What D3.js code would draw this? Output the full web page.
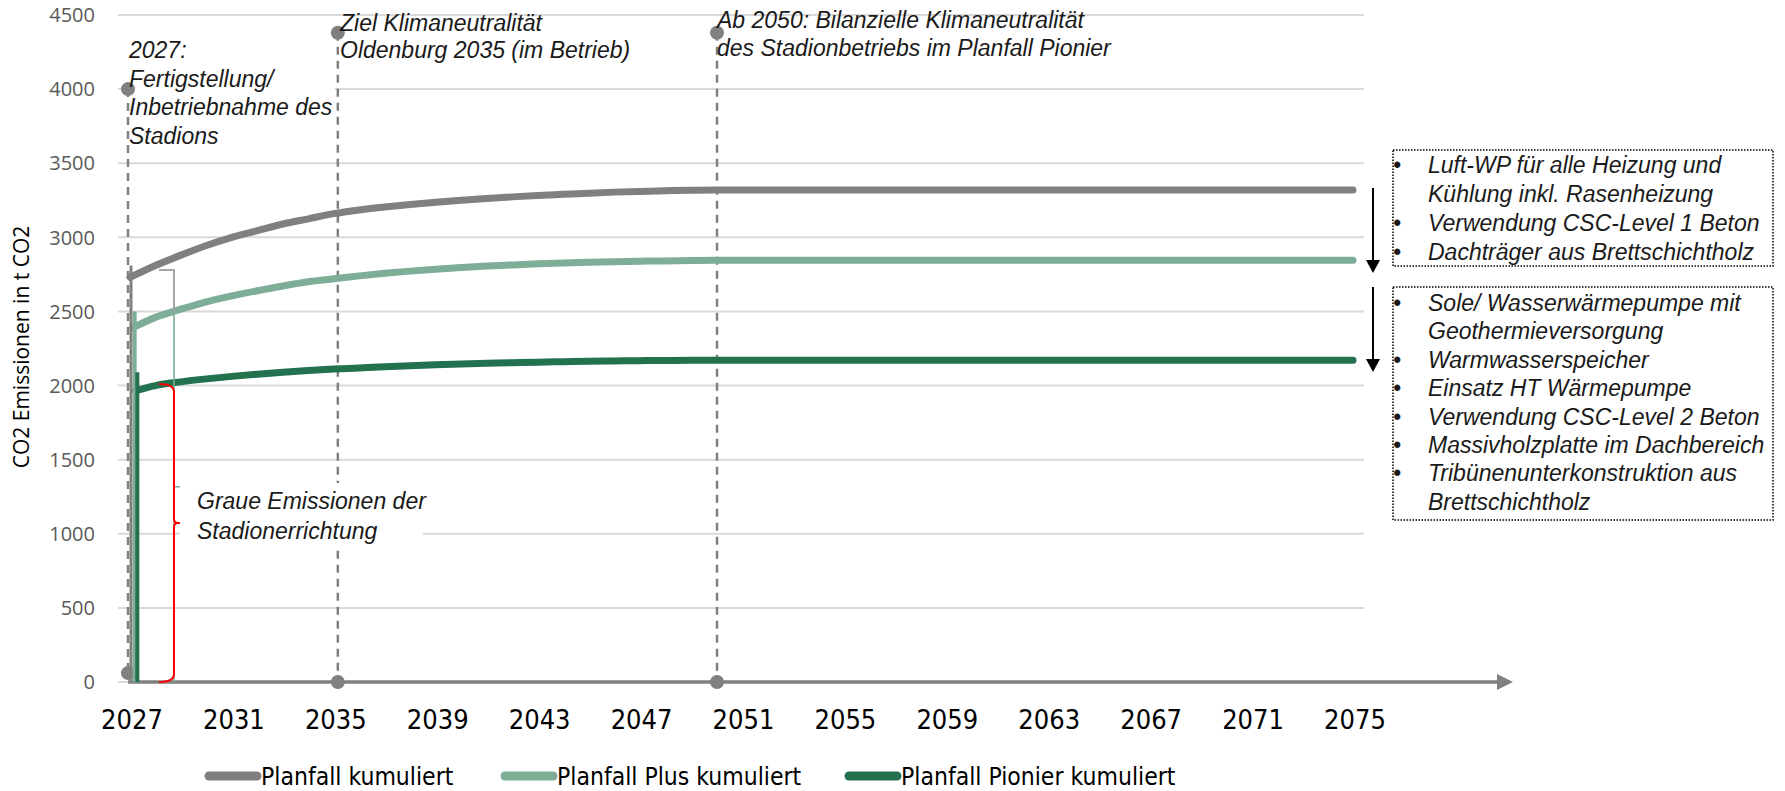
<!DOCTYPE html>
<html lang="de">
<head>
<meta charset="utf-8">
<title>CO2 Emissionen kumuliert</title>
<script src="https://cdn.jsdelivr.net/npm/d3@7/dist/d3.min.js"></script>
<style>
  html, body { margin: 0; padding: 0; background: #ffffff; }
  svg { display: block; }
  .ann { font-family: "Liberation Sans", Arial, sans-serif; font-style: italic; font-size: 23px; fill: #1a1a1a; }
  .ytick { font-family: "Open Sans", "Noto Sans", sans-serif; font-size: 20px; fill: #595959; }
  .xtick { font-family: "Liberation Sans Narrow", "DejaVu Sans Condensed", sans-serif; font-size: 27px; fill: #000; }
  .legend { font-family: "Liberation Sans Narrow", "DejaVu Sans Condensed", sans-serif; font-size: 24.5px; fill: #000; }
  .ytitle { font-family: "Open Sans", "Noto Sans", sans-serif; font-size: 21px; fill: #000; }
</style>
</head>
<body>
<svg id="chart" width="1785" height="791"></svg>
<script>
// ---- data -------------------------------------------------------------
const years = d3.range(2027, 2076);

// cumulative CO2 emissions (t CO2) per scenario, 2027 .. 2075
const planfall = [
  2730, 2810, 2880, 2945, 3000, 3045, 3090, 3125, 3160, 3185,
  3205, 3222, 3237, 3250, 3262, 3273, 3282, 3290, 3298, 3305,
  3310, 3314, 3318, 3320, 3320, 3320, 3320, 3320, 3320, 3320,
  3320, 3320, 3320, 3320, 3320, 3320, 3320, 3320, 3320, 3320,
  3320, 3320, 3320, 3320, 3320, 3320, 3320, 3320, 3320
];
const planfallPlus = [
  2390, 2460, 2515, 2565, 2605, 2640, 2672, 2700, 2720, 2740,
  2757, 2772, 2785, 2796, 2806, 2814, 2821, 2827, 2832, 2836,
  2839, 2841, 2843, 2845, 2845, 2845, 2845, 2845, 2845, 2845,
  2845, 2845, 2845, 2845, 2845, 2845, 2845, 2845, 2845, 2845,
  2845, 2845, 2845, 2845, 2845, 2845, 2845, 2845, 2845
];
const planfallPionier = [
  1965, 2000, 2025, 2045, 2062, 2077, 2090, 2101, 2111, 2119,
  2127, 2134, 2140, 2145, 2150, 2154, 2158, 2161, 2164, 2166,
  2168, 2169, 2170, 2170, 2170, 2170, 2170, 2170, 2170, 2170,
  2170, 2170, 2170, 2170, 2170, 2170, 2170, 2170, 2170, 2170,
  2170, 2170, 2170, 2170, 2170, 2170, 2170, 2170, 2170
];

const seriesNames = ["Planfall kumuliert", "Planfall Plus kumuliert", "Planfall Pionier kumuliert"];
const seriesColors = ["#808080", "#7eae98", "#22714f"];
// construction emissions at commissioning (vertical spike per scenario)
const baustartSpike = [2810, 2500, 2090];
// extents of the braces marking the grey (embodied) emissions
const graueEmissionen = [2780, 2500, 2010];
const braceColors = ["#a6a6a6", "#7eae98", "#ff0000"];

const yTicks = [0, 500, 1000, 1500, 2000, 2500, 3000, 3500, 4000, 4500];
const xTickYears = [2027, 2031, 2035, 2039, 2043, 2047, 2051, 2055, 2059, 2063, 2067, 2071, 2075];

// milestone markers: year, top value, bottom value, caption lines
const milestoneYears = [2027, 2035, 2050];
const milestoneTop = [4000, 4380, 4380];
const milestoneBottom = [60, 0, 0];
const milestoneText = [
  ["2027:", "Fertigstellung/", "Inbetriebnahme des", "Stadions"],
  ["Ziel Klimaneutralität", "Oldenburg 2035 (im Betrieb)"],
  ["Ab 2050: Bilanzielle Klimaneutralität", "des Stadionbetriebs im Planfall Pionier"]
];

const braceText = ["Graue Emissionen der", "Stadionerrichtung"];

const massnahmenPlus = [
  ["Luft-WP für alle Heizung und", "Kühlung inkl. Rasenheizung"],
  ["Verwendung CSC-Level 1 Beton"],
  ["Dachträger aus Brettschichtholz"]
];
const massnahmenPionier = [
  ["Sole/ Wasserwärmepumpe mit", "Geothermieversorgung"],
  ["Warmwasserspeicher"],
  ["Einsatz HT Wärmepumpe"],
  ["Verwendung CSC-Level 2 Beton"],
  ["Massivholzplatte im Dachbereich"],
  ["Tribünenunterkonstruktion aus", "Brettschichtholz"]
];

// ---- layout -------------------------------------------------------------
const svg = d3.select("#chart");
const plotLeft = 118, plotRight = 1364;
const x = d3.scaleLinear().domain([2027, 2075]).range([130, 1353]);
const y = d3.scaleLinear().domain([0, 4500]).range([682, 15]);
const spikeBand = d3.scaleBand().domain(seriesNames).range([x(2027), x(2027) + 8]).paddingInner(0);

// gridlines
svg.append("g").selectAll("line").data(yTicks).join("line")
  .attr("x1", plotLeft).attr("x2", plotRight)
  .attr("y1", d => y(d)).attr("y2", d => y(d))
  .attr("stroke", "#d9d9d9").attr("stroke-width", 2);

// y tick labels
svg.append("g").selectAll("text").data(yTicks).join("text")
  .attr("class", "ytick")
  .attr("x", 95).attr("y", d => y(d)).attr("dy", "0.36em")
  .attr("text-anchor", "end")
  .text(d => d);

// y axis title
svg.append("text").attr("class", "ytitle")
  .attr("transform", `translate(29,347) rotate(-90)`)
  .attr("text-anchor", "middle")
  .text("CO2 Emissionen in t CO2");

// white backing of the commissioning caption
svg.append("rect")
  .attr("x", x(2027) + 2).attr("y", 36).attr("width", 203).attr("height", 116)
  .attr("fill", "#fff");

// x axis with arrow head
svg.append("line")
  .attr("x1", x(2027) - 2).attr("x2", 1500)
  .attr("y1", y(0)).attr("y2", y(0))
  .attr("stroke", "#808080").attr("stroke-width", 3.5);
svg.append("path")
  .attr("d", `M1497,${y(0) - 8} L1513,${y(0)} L1497,${y(0) + 8} Z`)
  .attr("fill", "#808080");

// x tick labels
svg.append("g").selectAll("text").data(xTickYears).join("text")
  .attr("class", "xtick")
  .attr("x", d => x(d) + 2).attr("y", 729)
  .attr("text-anchor", "middle")
  .text(d => d);

// milestone lines and dots
const ms = svg.append("g");
milestoneYears.forEach((yr, i) => {
  const mx = x(yr) + (i === 0 ? -2 : i === 1 ? 4 : 1);
  ms.append("line")
    .attr("x1", mx).attr("x2", mx)
    .attr("y1", y(milestoneTop[i])).attr("y2", y(milestoneBottom[i]))
    .attr("stroke", "#808080").attr("stroke-width", 2.5)
    .attr("stroke-dasharray", "8,6");
  [milestoneTop[i], milestoneBottom[i]].forEach(v => {
    ms.append("circle")
      .attr("cx", mx).attr("cy", y(v)).attr("r", 7)
      .attr("fill", "#808080");
  });
});

// series lines
const seriesData = [planfall, planfallPlus, planfallPionier];
seriesData.forEach((vals, s) => {
  svg.append("path")
    .datum(vals)
    .attr("d", d3.line()
      .x((d, i) => (i === 0 ? spikeBand(seriesNames[s]) : x(years[i])))
      .y(d => y(d))
      .curve(d3.curveMonotoneX))
    .attr("fill", "none")
    .attr("stroke", seriesColors[s])
    .attr("stroke-width", 7)
    .attr("stroke-linecap", "round")
    .attr("stroke-linejoin", "round");
});

// construction spikes at commissioning
svg.append("g").selectAll("line").data(baustartSpike).join("line")
  .attr("x1", (d, i) => spikeBand(seriesNames[i]) + (i === 0 ? 1 : 2))
  .attr("x2", (d, i) => spikeBand(seriesNames[i]) + (i === 0 ? 1 : 2))
  .attr("y1", d => y(d)).attr("y2", y(0))
  .attr("stroke", (d, i) => seriesColors[i])
  .attr("stroke-width", (d, i) => i === 0 ? 3 : 4);

// braces for grey emissions
const braceX = x(2027) + 44, armLeft = x(2027) + 29;
graueEmissionen.forEach((v, i) => {
  const top = y(v), bot = y(0), mid = (top + bot) / 2 - 10;
  const g = svg.append("g").attr("fill", "none").attr("stroke", braceColors[i])
    .attr("stroke-width", i === 1 ? 1.6 : 2);
  if (i === 1) {
    g.append("path").attr("d", `M${braceX},${top} L${braceX},${bot} M${braceX},${mid} L${braceX + 17},${mid}`);
  } else if (i === 0) {
    g.append("path").attr("d", `M${armLeft},${top} L${braceX},${top} L${braceX},${y(2500)}`);
  } else {
    g.append("path").attr("d",
      `M${armLeft},${top} Q${braceX},${top} ${braceX},${top + 8} L${braceX},${mid - 4} ` +
      `Q${braceX},${mid} ${braceX + 4},${mid} L${braceX + 18},${mid} M${braceX + 4},${mid} ` +
      `Q${braceX},${mid} ${braceX},${mid + 4} L${braceX},${bot - 8} Q${braceX},${bot} ${armLeft},${bot}`);
  }
});

// caption next to the braces with white backing
svg.append("rect").attr("x", 180).attr("y", 483).attr("width", 243).attr("height", 62).attr("fill", "#fff");
svg.append("g").selectAll("text").data(braceText).join("text")
  .attr("class", "ann")
  .attr("x", 197).attr("y", (d, i) => 509 + i * 30)
  .text(d => d);

// milestone captions
const capPos = [
  { x: 129, y: 58, dy: 28.5 },
  { x: 340, y: 31, dy: 27 },
  { x: 717, y: 28, dy: 28 }
];
milestoneText.forEach((lines, i) => {
  svg.append("g").selectAll("text").data(lines).join("text")
    .attr("class", "ann")
    .attr("x", capPos[i].x).attr("y", (d, j) => capPos[i].y + j * capPos[i].dy)
    .text(d => d);
});

// measure lists with arrows
function drawList(items, boxTop, boxBottom, firstBaseline, step) {
  svg.append("rect")
    .attr("x", 1393).attr("y", boxTop).attr("width", 380).attr("height", boxBottom - boxTop)
    .attr("fill", "#fff").attr("stroke", "#000").attr("stroke-width", 1.5)
    .attr("stroke-dasharray", "1.5,1.5");
  let row = 0;
  items.forEach(item => {
    svg.append("text").attr("class", "ann").attr("font-style", "normal").attr("font-size", "20px")
      .attr("x", 1393).attr("y", firstBaseline + row * step).text("•");
    item.forEach(t => {
      svg.append("text").attr("class", "ann")
        .attr("x", 1428).attr("y", firstBaseline + row * step).text(t);
      row++;
    });
  });
}
drawList(massnahmenPlus, 150, 266, 173, 29);
drawList(massnahmenPionier, 287, 520, 311, 28.4);

// arrows between scenario levels
[[188, 272], [287, 371]].forEach(([a, b]) => {
  svg.append("line").attr("x1", 1373).attr("x2", 1373).attr("y1", a).attr("y2", b - 8)
    .attr("stroke", "#000").attr("stroke-width", 2);
  svg.append("path").attr("d", `M1366,${b - 12} L1380,${b - 12} L1373,${b + 1} Z`).attr("fill", "#000");
});

// legend
const legend = svg.append("g");
const legendX = [205, 501, 845];
seriesNames.forEach((n, i) => {
  legend.append("line")
    .attr("x1", legendX[i] + 4).attr("x2", legendX[i] + 52)
    .attr("y1", 776).attr("y2", 776)
    .attr("stroke", seriesColors[i]).attr("stroke-width", 9).attr("stroke-linecap", "round");
  legend.append("text").attr("class", "legend")
    .attr("x", legendX[i] + 56).attr("y", 776)
    .attr("dy", "0.35em")
    .text(n);
});
</script>
</body>
</html>
